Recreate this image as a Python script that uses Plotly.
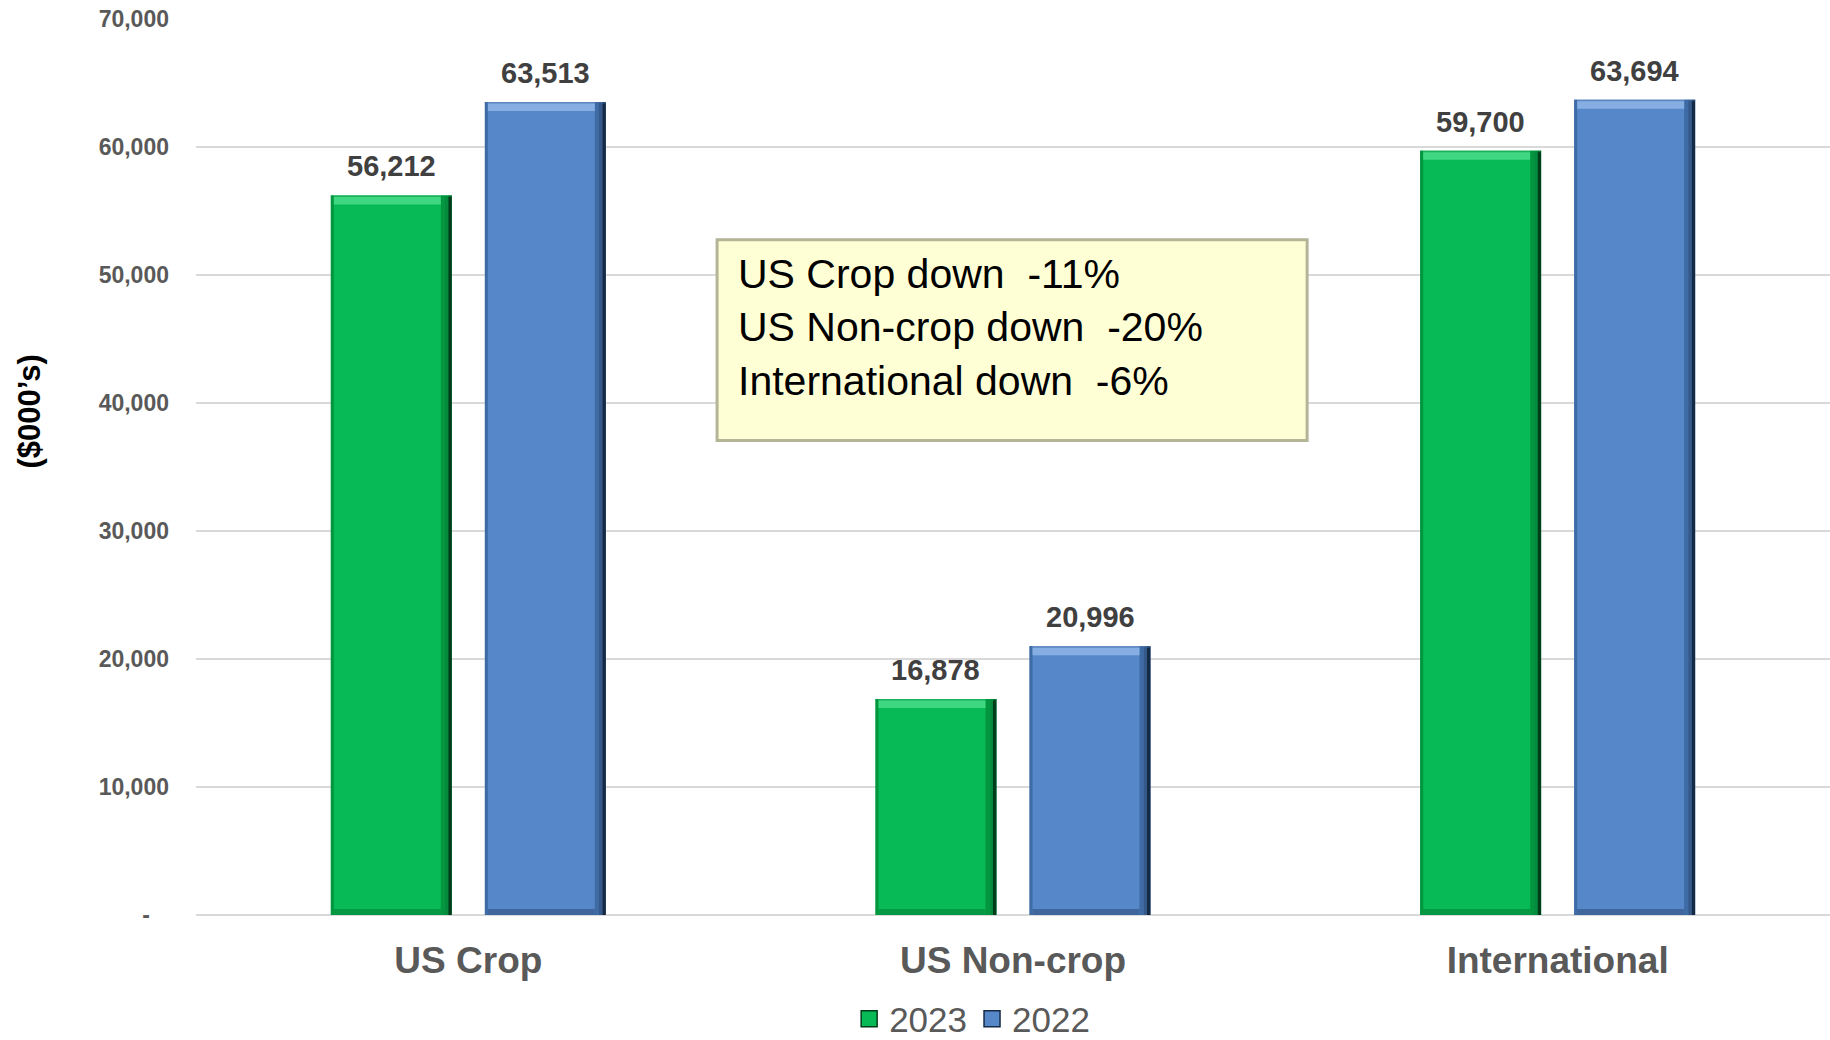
import plotly.graph_objects as go

# Segment sales ($000's)
categories = ["US Crop", "US Non-crop", "International"]
sales_2023 = [56212, 16878, 59700]
sales_2022 = [63513, 20996, 63694]

y_tick_vals = [0, 10000, 20000, 30000, 40000, 50000, 60000, 70000]
y_tick_text = ["-\u00a0\u00a0\u00a0", "10,000", "20,000", "30,000", "40,000", "50,000", "60,000", "70,000"]

callout_lines = [
    "US Crop down\u00a0\u00a0-11%",
    "US Non-crop down\u00a0\u00a0-20%",
    "International down\u00a0\u00a0-6%",
]

GREEN = "#07BA55"
BLUE = "#5688C9"
BAR_W = 0.222      # bar width in category units
OFFSET = 0.1414    # distance of each bar centre from category centre

series = [
    dict(name="2023", values=sales_2023, color=GREEN, shift=-OFFSET,
         light="#40D783", mid="#058A3E", dark="#023D1B", edge="#04963F"),
    dict(name="2022", values=sales_2022, color=BLUE, shift=OFFSET,
         light="#86AEE3", mid="#36598A", dark="#152A44", edge="#3F6BA5"),
]

fig = go.Figure()

for s in series:
    fig.add_trace(go.Bar(
        x=list(range(len(categories))),
        y=s["values"],
        name=s["name"],
        width=BAR_W,
        offset=s["shift"] - BAR_W / 2,
        marker=dict(color=s["color"], line=dict(width=0)),
        showlegend=False,
        hoverinfo="y",
    ))
    # legend entry with a larger square swatch
    fig.add_trace(go.Scatter(
        x=[None], y=[None], mode="markers", name=s["name"],
        marker=dict(symbol="square", size=17, color=s["color"],
                    line=dict(color=s["dark"], width=1.5)),
        showlegend=True,
    ))

shapes = []
half = 121 / 2
for s in series:
    for i, v in enumerate(s["values"]):
        xc = i + s["shift"]
        # left edge shading
        shapes.append(dict(type="rect", xref="x", yref="y", xsizemode="pixel", xanchor=xc,
                           x0=-half, x1=-half + 3, y0=0, y1=v, line=dict(width=0),
                           fillcolor=s["edge"], layer="above"))
        # right-side bevel shadow, darkening towards the edge
        for a, b, c in [(-11, -7, s["edge"]), (-7, -3.5, s["mid"]), (-3.5, 0, s["dark"])]:
            shapes.append(dict(type="rect", xref="x", yref="y", xsizemode="pixel", xanchor=xc,
                               x0=half + a, x1=half + b, y0=0, y1=v, line=dict(width=0),
                               fillcolor=c, layer="above"))
        # top bevel highlight
        shapes.append(dict(type="rect", xref="x", yref="y", xsizemode="pixel", xanchor=xc,
                           ysizemode="pixel", yanchor=v,
                           x0=-half + 3, x1=half - 11, y0=-9, y1=0, line=dict(width=0),
                           fillcolor=s["light"], layer="above"))
        shapes.append(dict(type="rect", xref="x", yref="y", xsizemode="pixel", xanchor=xc,
                           ysizemode="pixel", yanchor=v,
                           x0=-half, x1=half, y0=-1.5, y1=0, line=dict(width=0),
                           fillcolor=s["edge"], opacity=0.6, layer="above"))
        # bottom bevel shade
        shapes.append(dict(type="rect", xref="x", yref="y", xsizemode="pixel", xanchor=xc,
                           ysizemode="pixel", yanchor=0,
                           x0=-half + 3, x1=half - 11, y0=0, y1=6, line=dict(width=0),
                           fillcolor=s["mid"], opacity=0.7, layer="above"))

# callout box
bx0, bx1, by0, by1 = 0.3189, 0.6800, 0.5295, 0.7536
shapes.append(dict(type="rect", xref="paper", yref="paper", x0=bx0, x1=bx1, y0=by0, y1=by1,
                   fillcolor="#FFFFD6", line=dict(color="#B4B497", width=3), layer="above"))

annotations = []
for s in series:
    for i, v in enumerate(s["values"]):
        annotations.append(dict(
            x=i + s["shift"], y=v, xref="x", yref="y", text=f"{v:,}",
            showarrow=False, yanchor="bottom", yshift=11,
            font=dict(family="Arial", size=29, color="#404040", weight="bold"),
        ))

annotations.append(dict(
    x=0.3305, y=0.6555, xref="paper", yref="paper", xanchor="left", yanchor="middle",
    text="<br>".join(callout_lines), align="left", showarrow=False,
    font=dict(family="Arial", size=41, color="#000000"),
))

annotations.append(dict(
    x=-0.1022, y=0.562, xref="paper", yref="paper", xanchor="center", yanchor="middle",
    text="($000\u2019s)", textangle=-90,
    showarrow=False, font=dict(family="Arial", size=31, color="#000000", weight="bold"),
))

fig.update_layout(
    width=1830, height=1040,
    margin=dict(l=196, r=0, t=19, b=125, autoexpand=False),
    paper_bgcolor="white", plot_bgcolor="white",
    barmode="overlay",
    shapes=shapes,
    annotations=annotations,
    xaxis=dict(
        tickmode="array", tickvals=list(range(len(categories))), ticktext=categories,
        range=[-0.5, 2.5], showgrid=False, zeroline=False, showline=False, ticks="",
        tickfont=dict(family="Arial", size=37, color="#595959", weight="bold"),
        ticklabelstandoff=20, automargin=False,
    ),
    yaxis=dict(
        range=[0, 70000], tickmode="array", tickvals=y_tick_vals, ticktext=y_tick_text,
        showgrid=True, gridcolor="#D9D9D9", gridwidth=2,
        zeroline=True, zerolinecolor="#D9D9D9", zerolinewidth=2, showline=False,
        ticks="", tickfont=dict(family="Arial", size=23, color="#595959", weight="bold"),
        ticklabelstandoff=26, automargin=False,
    ),
    legend=dict(
        orientation="h", x=0.4750, xanchor="center", y=-0.116, yanchor="middle",
        font=dict(family="Arial", size=35, color="#595959"),
        bgcolor="rgba(0,0,0,0)", itemwidth=30,
    ),
)

fig.write_html("out.html")
